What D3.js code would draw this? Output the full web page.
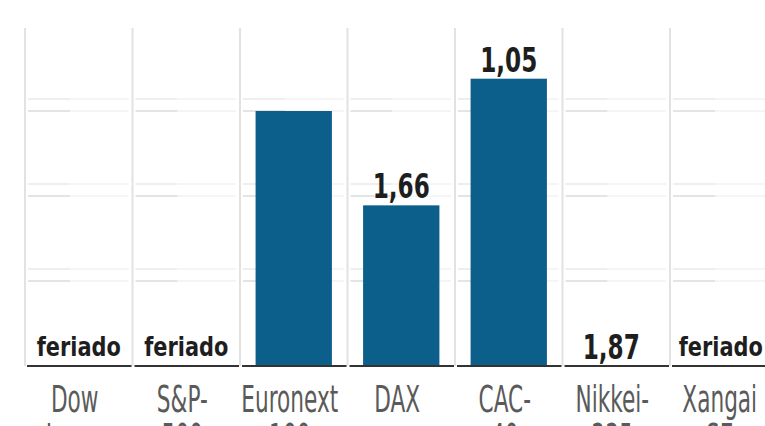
<!DOCTYPE html>
<html><head><meta charset="utf-8">
<script src="https://cdn.jsdelivr.net/npm/d3@7"></script>
<style>html,body{margin:0;padding:0;background:#fff;overflow:hidden}</style>
</head><body>
<svg id="c" width="765" height="426"></svg>
<script>
const categories = ["Dow", "S&P-", "Euronext", "DAX", "CAC-", "Nikkei-", "Xangai"];
const categories2 = ["Jones", "500", "100", "", "40", "225", "SE"];
const barValues = [0, 0, 3.0, 1.89, 3.38, 0, 0];
const barLabels = ["feriado", "feriado", "", "1,66", "1,05", "1,87", "feriado"];
const gridTicks = [1, 2, 3];

const svg = d3.select("#c");
const x = d3.scaleBand().domain(categories).range([25, 777.5]).padding(0);
const y = d3.scaleLinear().domain([0, 4]).range([366, 26]);
const bw = x.bandwidth();
const FONT = "'Liberation Sans Narrow', 'DejaVu Sans Condensed', sans-serif";

// column separators
svg.append("g").selectAll("line").data(categories).join("line")
  .attr("x1", d => x(d)).attr("x2", d => x(d))
  .attr("y1", 28).attr("y2", 366)
  .attr("stroke", "#e2e2e2").attr("stroke-width", 2);

// faint gridlines in each column
const g = svg.append("g");
categories.forEach(c => {
  gridTicks.forEach(t => {
    [0, -12].forEach(off => {
      g.append("line")
        .attr("x1", x(c) + 3).attr("x2", x(c) + bw * 0.42)
        .attr("y1", y(t) + off).attr("y2", y(t) + off)
        .attr("stroke", off === 0 ? "#e4e4e4" : "#eeeeee").attr("stroke-width", 2);
      g.append("line")
        .attr("x1", x(c) + bw * 0.42).attr("x2", x(c) + bw - 4)
        .attr("y1", y(t) + off).attr("y2", y(t) + off)
        .attr("stroke", "#f5f5f5").attr("stroke-width", 2);
    });
  });
});

// bars
svg.append("g").selectAll("rect").data(categories).join("rect")
  .attr("x", d => x(d) + bw * 0.145)
  .attr("width", bw * 0.71)
  .attr("y", (d, i) => y(barValues[i]))
  .attr("height", (d, i) => y(0) - y(barValues[i]))
  .attr("fill", "#0d5f8b");

// baseline segments
svg.append("g").selectAll("line").data(categories).join("line")
  .attr("x1", d => x(d) + 2).attr("x2", d => x(d) + bw - 1)
  .attr("y1", 366).attr("y2", 366)
  .attr("stroke", "#333").attr("stroke-width", 2);

// value labels
svg.append("g").selectAll("text").data(categories).join("text")
  .attr("transform", (d, i) => {
    const fer = barLabels[i] === "feriado";
    const cx = x(d) + bw / 2 + (i === 6 ? -3 : (i === 5 ? -5 : 0));
    const cy = fer ? 356 : y(barValues[i]) - 7;
    return `translate(${cx},${cy}) scale(${fer ? 0.86 : 0.78},1)`;
  })
  .attr("text-anchor", "middle")
  .attr("font-family", FONT)
  .attr("font-weight", "bold")
  .attr("font-size", (d, i) => barLabels[i] === "feriado" ? 27 : 33)
  .attr("fill", "#1e1e1e")
  .text((d, i) => barLabels[i]);

// category labels
const lab = svg.append("g");
categories.forEach((c, i) => {
  [categories[i], categories2[i]].forEach((t, j) => {
    if (!t) return;
    lab.append("text")
      .attr("transform", `translate(${x(c) + bw / 2 - 4},${412 + j * 38}) scale(0.65,1)`)
      .attr("text-anchor", "middle")
      .attr("font-family", FONT)
      .attr("font-size", 37)
      .attr("fill", "#5a5a5a")
      .text(t);
  });
});
</script>
</body></html>
